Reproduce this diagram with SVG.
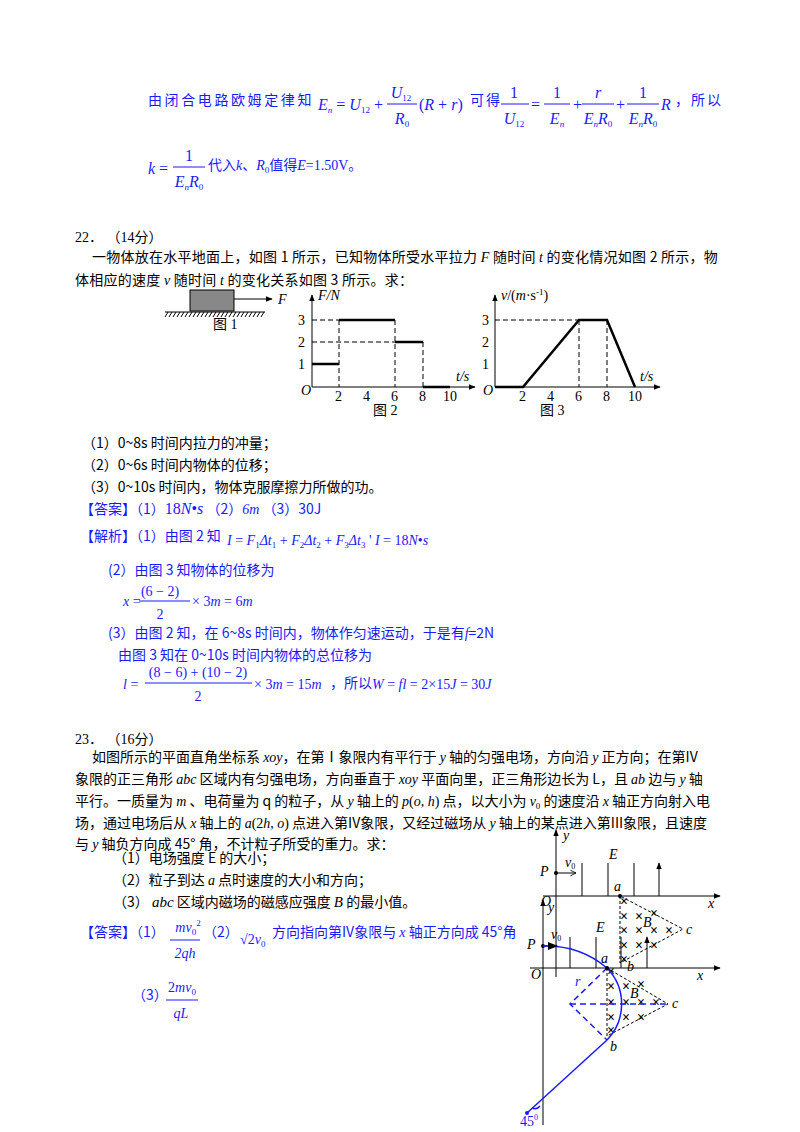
<svg xmlns="http://www.w3.org/2000/svg" width="800" height="1132" viewBox="0 0 800 1132">
<style>
text{font-family:"Liberation Serif","Noto Sans CJK SC",serif;font-size:14px;fill:#000}
.b{fill:#1a1aff}
.i{font-style:italic}
.s{font-size:9px}
.cn{font-family:"Noto Sans CJK SC",sans-serif}
.m{font-size:16px}
.ln{stroke:#000;stroke-width:1;fill:none}
.th{stroke:#000;stroke-width:2.5;fill:none}
.dash{stroke:#000;stroke-width:1;stroke-dasharray:5,3;fill:none}
.bl{stroke:#1a1aff;stroke-width:1.5;fill:none}
.bd{stroke:#1a1aff;stroke-width:1.5;stroke-dasharray:6,4;fill:none}
.fb{stroke:#1a1aff;stroke-width:1}
.x{font-size:10px;text-anchor:middle;font-weight:bold}
</style>
<defs>
<marker id="ar" viewBox="0 0 10 10" refX="9" refY="5" markerWidth="7" markerHeight="7" orient="auto"><path d="M0,1 L10,5 L0,9 z" fill="#000"/></marker>
<marker id="oa" viewBox="0 0 10 10" refX="9" refY="5" markerWidth="7" markerHeight="7" orient="auto"><path d="M1,1 L9,5 L1,9" fill="none" stroke="#000" stroke-width="1.2"/></marker>
</defs>
<rect width="800" height="1132" fill="#fff"/>

<g id="prev">
<text x="148" y="105" class="b cn" letter-spacing="2.6">由闭合电路欧姆定律知</text>
<text x="318" y="110" class="b i m">E<tspan class="s" dy="3">n</tspan><tspan dy="-3" font-style="normal"> = </tspan>U<tspan class="s" dy="3" font-style="normal">12</tspan><tspan dy="-3" font-style="normal"> +</tspan></text>
<text x="401" y="98" class="b i m" text-anchor="middle">U<tspan class="s" dy="3" font-style="normal">12</tspan></text>
<line x1="387" y1="104" x2="417" y2="104" class="fb"/>
<text x="402" y="124" class="b i m" text-anchor="middle">R<tspan class="s" dy="3" font-style="normal">0</tspan></text>
<text x="419" y="110" class="b i m"><tspan font-style="normal">(</tspan>R<tspan font-style="normal"> + </tspan>r<tspan font-style="normal">)</tspan></text>
<text x="470" y="105" class="b cn" letter-spacing="2">可得</text>
<text x="514" y="98" class="b m" text-anchor="middle">1</text>
<line x1="501" y1="104" x2="529" y2="104" class="fb"/>
<text x="514" y="124" class="b i m" text-anchor="middle">U<tspan class="s" dy="3" font-style="normal">12</tspan></text>
<text x="531" y="110" class="b m">=</text>
<text x="557" y="98" class="b m" text-anchor="middle">1</text>
<line x1="544" y1="104" x2="570" y2="104" class="fb"/>
<text x="557" y="124" class="b i m" text-anchor="middle">E<tspan class="s" dy="3">n</tspan></text>
<text x="573" y="110" class="b m">+</text>
<text x="598" y="98" class="b i m" text-anchor="middle">r</text>
<line x1="582" y1="104" x2="614" y2="104" class="fb"/>
<text x="598" y="124" class="b i m" text-anchor="middle">E<tspan class="s" dy="3">n</tspan><tspan dy="-3">R</tspan><tspan class="s" dy="3" font-style="normal">0</tspan></text>
<text x="616" y="110" class="b m">+</text>
<text x="643" y="98" class="b m" text-anchor="middle">1</text>
<line x1="627" y1="104" x2="659" y2="104" class="fb"/>
<text x="643" y="124" class="b i m" text-anchor="middle">E<tspan class="s" dy="3">n</tspan><tspan dy="-3">R</tspan><tspan class="s" dy="3" font-style="normal">0</tspan></text>
<text x="661" y="110" class="b i m">R</text>
<text x="675" y="105" class="b cn" letter-spacing="2">，所以</text>
<text x="148" y="174" class="b i m">k<tspan font-style="normal"> =</tspan></text>
<text x="189" y="161" class="b m" text-anchor="middle">1</text>
<line x1="173" y1="167" x2="205" y2="167" class="fb"/>
<text x="189" y="187" class="b i m" text-anchor="middle">E<tspan class="s" dy="3">n</tspan><tspan dy="-3">R</tspan><tspan class="s" dy="3" font-style="normal">0</tspan></text>
<text x="208" y="170" class="b"><tspan class="cn">代入</tspan><tspan class="i">k</tspan><tspan class="cn">、</tspan><tspan class="i">R</tspan><tspan class="s" dy="3">0</tspan><tspan dy="-3" class="cn">值得</tspan><tspan class="i">E</tspan>=1.50V<tspan class="cn">。</tspan></text>
</g>

<g id="q22">
<text x="75" y="242">22． （14分）</text>
<text x="92" y="262" class="cn" font-size="13.5" letter-spacing="0.25">一物体放在水平地面上，如图 1 所示，已知物体所受水平拉力 <tspan class="i" font-family="Liberation Serif">F</tspan> 随时间 <tspan class="i" font-family="Liberation Serif">t</tspan> 的变化情况如图 2 所示，物</text>
<text x="75" y="285" class="cn" font-size="13.5" letter-spacing="0.25">体相应的速度 <tspan class="i" font-family="Liberation Serif">v</tspan> 随时间 <tspan class="i" font-family="Liberation Serif">t</tspan> 的变化关系如图 3 所示。求：</text>
</g>

<g id="fig1">
<rect x="190" y="290" width="44" height="21" fill="#888" stroke="#000"/>
<line x1="234" y1="299" x2="272" y2="299" class="ln" marker-end="url(#ar)"/>
<text x="278" y="304" class="i">F</text>
<line x1="165" y1="312" x2="265" y2="312" class="ln"/>
<path d="M168,312 l-3,5 M172,312 l-3,5 M176,312 l-3,5 M180,312 l-3,5 M184,312 l-3,5 M188,312 l-3,5 M192,312 l-3,5 M196,312 l-3,5 M200,312 l-3,5 M204,312 l-3,5 M208,312 l-3,5 M212,312 l-3,5 M216,312 l-3,5 M220,312 l-3,5 M224,312 l-3,5 M228,312 l-3,5 M232,312 l-3,5 M236,312 l-3,5 M240,312 l-3,5 M244,312 l-3,5 M248,312 l-3,5 M252,312 l-3,5 M256,312 l-3,5 M260,312 l-3,5 M264,312 l-3,5" class="ln"/>
<text x="213" y="329">图 1</text>
</g>

<g id="fig2">
<line x1="312" y1="387" x2="312" y2="295" class="ln" marker-end="url(#ar)"/>
<line x1="312" y1="387" x2="475" y2="387" class="ln" marker-end="url(#ar)"/>
<text x="318" y="300" class="i">F/N</text>
<text x="456" y="381" class="i">t/s</text>
<text x="301" y="395" class="i">O</text>
<text x="298" y="325">3</text><text x="298" y="347">2</text><text x="298" y="369">1</text>
<text x="335" y="401">2</text><text x="363" y="401">4</text><text x="391" y="401">6</text><text x="419" y="401">8</text><text x="443" y="401">10</text>
<path d="M312,320 H339 M312,342 H395 M339,320 V387 M395,320 V387 M423,342 V387" class="dash"/>
<path d="M312,364 H339 M339,320 H395 M395,342 H423 M423,387 H450" class="th"/>
<text x="373" y="415">图 2</text>
</g>

<g id="fig3">
<line x1="495" y1="387" x2="495" y2="295" class="ln" marker-end="url(#ar)"/>
<line x1="495" y1="387" x2="660" y2="387" class="ln" marker-end="url(#ar)"/>
<text x="501" y="300"><tspan class="i">v</tspan>/(<tspan class="i">m</tspan>·s<tspan class="s" dy="-5">-1</tspan><tspan dy="5">)</tspan></text>
<text x="640" y="381" class="i">t/s</text>
<text x="483" y="395" class="i">O</text>
<text x="482" y="325">3</text><text x="482" y="347">2</text><text x="482" y="369">1</text>
<text x="519" y="401">2</text><text x="547" y="401">4</text><text x="575" y="401">6</text><text x="603" y="401">8</text><text x="628" y="401">10</text>
<path d="M495,320 H579 M579,320 V387 M607,320 V387" class="dash"/>
<path d="M495,387 H523 L579,320 H607 L635,387" class="th"/>
<text x="540" y="415">图 3</text>
</g>

<g id="q22ans">
<text x="82" y="448" class="cn" font-size="13.5">（1）0~8s 时间内拉力的冲量；</text>
<text x="82" y="470" class="cn" font-size="13.5">（2）0~6s 时间内物体的位移；</text>
<text x="82" y="492" class="cn" font-size="13.5">（3）0~10s 时间内，物体克服摩擦力所做的功。</text>
<text x="80" y="514" class="b cn" font-size="13.5">【答案】（1）<tspan font-family="Liberation Serif" font-size="16">18<tspan class="i">N</tspan>•<tspan class="i">s</tspan></tspan>   （2）<tspan font-family="Liberation Serif" class="i">6m</tspan>   （3）30J</text>
<text x="80" y="541" class="b cn" font-size="13.5">【解析】（1）由图 2 知</text>
<text x="227" y="545" class="b i" font-size="16">I<tspan font-style="normal"> = </tspan>F<tspan class="s" dy="3" font-style="normal">1</tspan><tspan dy="-3">Δt</tspan><tspan class="s" dy="3" font-style="normal">1</tspan><tspan dy="-3" font-style="normal"> + </tspan>F<tspan class="s" dy="3" font-style="normal">2</tspan><tspan dy="-3">Δt</tspan><tspan class="s" dy="3" font-style="normal">2</tspan><tspan dy="-3" font-style="normal"> + </tspan>F<tspan class="s" dy="3" font-style="normal">3</tspan><tspan dy="-3">Δt</tspan><tspan class="s" dy="3" font-style="normal">3</tspan><tspan dy="-3" font-style="normal"> '   </tspan>I<tspan font-style="normal"> = 18</tspan>N<tspan font-style="normal">•</tspan>s</text>
<text x="108" y="575" class="b cn" font-size="13.5">(2）由图 3 知物体的位移为</text>
<text x="123" y="606" class="b i" font-size="15">x<tspan font-style="normal"> =</tspan></text>
<text x="160" y="596" class="b" text-anchor="middle" font-size="15">(6 − 2)</text>
<line x1="139" y1="601" x2="190" y2="601" class="fb"/>
<text x="160" y="619" class="b" text-anchor="middle" font-size="15">2</text>
<text x="192" y="606" class="b" font-size="15">× 3<tspan class="i">m</tspan> = 6<tspan class="i">m</tspan></text>
<text x="108" y="638" class="b cn" font-size="13.5">(3）由图 2 知，在 6~8s 时间内，物体作匀速运动，于是有<tspan font-family="Liberation Serif" class="i">f</tspan>=2N</text>
<text x="118" y="660" class="b cn" font-size="13.5">由图 3 知在 0~10s 时间内物体的总位移为</text>
<text x="123" y="689" class="b i" font-size="15">l<tspan font-style="normal"> =</tspan></text>
<text x="198" y="677" class="b" text-anchor="middle" font-size="15">(8 − 6) + (10 − 2)</text>
<line x1="145" y1="683" x2="252" y2="683" class="fb"/>
<text x="198" y="701" class="b" text-anchor="middle" font-size="15">2</text>
<text x="254" y="689" class="b" font-size="15">× 3<tspan class="i">m</tspan> = 15<tspan class="i">m</tspan></text>
<text x="330" y="688" class="b cn" font-size="13.5">，所以</text>
<text x="372" y="689" class="b i" font-size="16">W<tspan font-style="normal"> = </tspan>fl<tspan font-style="normal"> = 2×15</tspan>J<tspan font-style="normal"> = 30</tspan>J</text>
</g>

<g id="q23">
<text x="75" y="744">23． （16分）</text>
<text x="92" y="762" class="cn" font-size="13.5">如图所示的平面直角坐标系 <tspan font-family="Liberation Serif" class="i">xoy</tspan>，在第Ⅰ象限内有平行于 <tspan font-family="Liberation Serif" class="i">y</tspan> 轴的匀强电场，方向沿 <tspan font-family="Liberation Serif" class="i">y</tspan> 正方向；在第IV</text>
<text x="75" y="784" class="cn" font-size="13.5">象限的正三角形 <tspan font-family="Liberation Serif" class="i">abc</tspan> 区域内有匀强电场，方向垂直于 <tspan font-family="Liberation Serif" class="i">xoy</tspan> 平面向里，正三角形边长为 L，且 <tspan font-family="Liberation Serif" class="i">ab</tspan> 边与 <tspan font-family="Liberation Serif" class="i">y</tspan> 轴</text>
<text x="75" y="806" class="cn" font-size="13.5">平行。一质量为 <tspan font-family="Liberation Serif" class="i">m</tspan> 、电荷量为 q 的粒子，从 <tspan font-family="Liberation Serif" class="i">y</tspan> 轴上的 <tspan font-family="Liberation Serif" class="i">p</tspan><tspan font-family="Liberation Serif">(<tspan class="i">o</tspan>, <tspan class="i">h</tspan>)</tspan> 点，以大小为 <tspan font-family="Liberation Serif" class="i">v</tspan><tspan font-family="Liberation Serif" class="s" dy="3">0</tspan><tspan dy="-3"> 的速度沿 </tspan><tspan font-family="Liberation Serif" class="i">x</tspan> 轴正方向射入电</text>
<text x="75" y="828" class="cn" font-size="13.5">场，通过电场后从 <tspan font-family="Liberation Serif" class="i">x</tspan> 轴上的 <tspan font-family="Liberation Serif" class="i">a</tspan><tspan font-family="Liberation Serif">(2<tspan class="i">h</tspan>, <tspan class="i">o</tspan>)</tspan> 点进入第IV象限，又经过磁场从 <tspan font-family="Liberation Serif" class="i">y</tspan> 轴上的某点进入第III象限，且速度</text>
<text x="75" y="849" class="cn" font-size="13.5">与 <tspan font-family="Liberation Serif" class="i">y</tspan> 轴负方向成 45° 角，不计粒子所受的重力。求：</text>
<text x="113" y="863" class="cn" font-size="13.5">（1）电场强度 E 的大小；</text>
<text x="113" y="885" class="cn" font-size="13.5">（2）粒子到达 <tspan font-family="Liberation Serif" class="i">a</tspan> 点时速度的大小和方向；</text>
<text x="113" y="907" class="cn" font-size="13.5">（3） <tspan font-family="Liberation Serif" class="i" font-size="15">abc</tspan> 区域内磁场的磁感应强度 <tspan font-family="Liberation Serif" class="i" font-size="15">B</tspan> 的最小值。</text>
<text x="80" y="937" class="b cn" font-size="13.5">【答案】（1）</text>
<text x="188" y="932" class="b i" text-anchor="middle">mv<tspan class="s" dy="3" font-style="normal">0</tspan><tspan class="s" dy="-9" font-style="normal">2</tspan></text>
<line x1="170" y1="940" x2="200" y2="940" class="fb"/>
<text x="185" y="958" class="b i" text-anchor="middle">2qh</text>
<text x="203" y="937" class="b cn" font-size="13.5">（2）</text>
<text x="240" y="944" class="b">√2<tspan class="i">v</tspan><tspan class="s" dy="3">0</tspan></text>
<text x="272" y="937" class="b cn" font-size="13.5">方向指向第IV象限与 <tspan font-family="Liberation Serif" class="i">x</tspan> 轴正方向成 45°角</text>
<text x="132" y="1000" class="b cn" font-size="13.5">（3）</text>
<text x="182" y="992" class="b i" text-anchor="middle"><tspan font-style="normal">2</tspan>mv<tspan class="s" dy="3" font-style="normal">0</tspan></text>
<line x1="166" y1="1000" x2="198" y2="1000" class="fb"/>
<text x="181" y="1018" class="b i" text-anchor="middle">qL</text>
</g>

<g id="fig4a">
<line x1="556" y1="977" x2="556" y2="830" class="ln" marker-end="url(#ar)"/>
<line x1="543" y1="896" x2="720" y2="896" class="ln" marker-end="url(#ar)"/>
<text x="563" y="840" class="i" font-size="12">y</text>
<text x="708" y="908" class="i" font-size="12">x</text>
<text x="541" y="906" class="i" font-size="13">O</text>
<text x="540" y="876" class="i" font-size="13">P</text>
<circle cx="556" cy="873" r="2" fill="#000"/>
<line x1="556" y1="873" x2="576" y2="873" class="ln" marker-end="url(#oa)"/>
<text x="565" y="867" font-size="11" class="i">v<tspan font-size="8" dy="2" font-style="normal">0</tspan></text>
<path d="M582,896 V863 M608,896 V863 M634,896 V863 M659,896 V863" class="ln" marker-end="url(#ar)"/>
<text x="609" y="859" class="i" font-size="13">E</text>
<text x="614" y="891" class="i" font-size="13">a</text>
<circle cx="620" cy="896" r="2" fill="#000"/>
<path d="M620,896 V963 L683,929 Z" fill="none" stroke="#000" stroke-dasharray="3,2"/>
<text x="627" y="971" class="i" font-size="13">b</text>
<text x="686" y="934" class="i" font-size="13">c</text>
<text x="643" y="927" class="i" font-size="13">B</text>
<g class="x">
<text x="624" y="906">×</text><text x="624" y="921">×</text><text x="624" y="935">×</text><text x="624" y="950">×</text><text x="624" y="964">×</text>
<text x="639" y="921">×</text><text x="639" y="935">×</text><text x="639" y="950">×</text>
<text x="654" y="918">×</text><text x="654" y="935">×</text><text x="654" y="950">×</text>
<text x="669" y="935">×</text>
</g>
</g>

<g id="fig4b">
<line x1="543" y1="1125" x2="543" y2="900" class="ln" marker-end="url(#ar)"/>
<line x1="530" y1="968" x2="720" y2="968" class="ln" marker-end="url(#ar)"/>
<text x="548" y="912" class="i" font-size="12">y</text>
<text x="697" y="980" class="i" font-size="12">x</text>
<text x="531" y="979" class="i" font-size="13">O</text>
<text x="527" y="949" class="i" font-size="13">P</text>
<circle cx="543" cy="946" r="2" fill="#000"/>
<text x="551" y="939" font-size="11" class="i">v<tspan font-size="8" dy="2" font-style="normal">0</tspan></text>
<path d="M570,968 V937 M596,968 V937 M621,968 V937 M647,968 V937" class="ln" marker-end="url(#ar)"/>
<text x="596" y="932" class="i" font-size="13">E</text>
<path d="M607,968 V1036 L668,1004 Z" fill="none" stroke="#000" stroke-dasharray="3,2"/>
<g class="x">
<text x="611" y="976">×</text><text x="611" y="991">×</text><text x="611" y="1007">×</text><text x="611" y="1022">×</text><text x="611" y="1035">×</text>
<text x="626" y="991">×</text><text x="626" y="1007">×</text><text x="626" y="1022">×</text>
<text x="641" y="989">×</text><text x="641" y="1007">×</text><text x="641" y="1022">×</text>
<text x="656" y="1007">×</text>
</g>
<path d="M543,946 Q580,945 607,968" class="bl"/>
<line x1="543" y1="946" x2="557" y2="946" class="bl" marker-end="url(#ar)"/>
<path d="M607,968 A51.6,51.6 0 0 1 607,1040" class="bl"/>
<path d="M607,968 L570,1004 L607,1040 M570,1004 H668" class="bd"/>
<line x1="607" y1="1040" x2="527" y2="1113" class="bl"/>
<circle cx="527" cy="1113" r="2" fill="#1a1aff"/>
<path d="M532,1108 Q537,1110 540,1106" class="bl" stroke-width="1"/>
<circle cx="607" cy="968" r="2" fill="#000"/>
<text x="601" y="963" class="i" font-size="13">a</text>
<text x="610" y="1051" class="i" font-size="13">b</text>
<text x="672" y="1008" class="i" font-size="13">c</text>
<text x="630" y="998" class="i" font-size="13">B</text>
<text x="575" y="986" class="b i" font-size="13">r</text>
<text x="520" y="1126" class="b" font-size="13">45<tspan font-size="8" dy="-6">0</tspan></text>
</g>
</svg>
